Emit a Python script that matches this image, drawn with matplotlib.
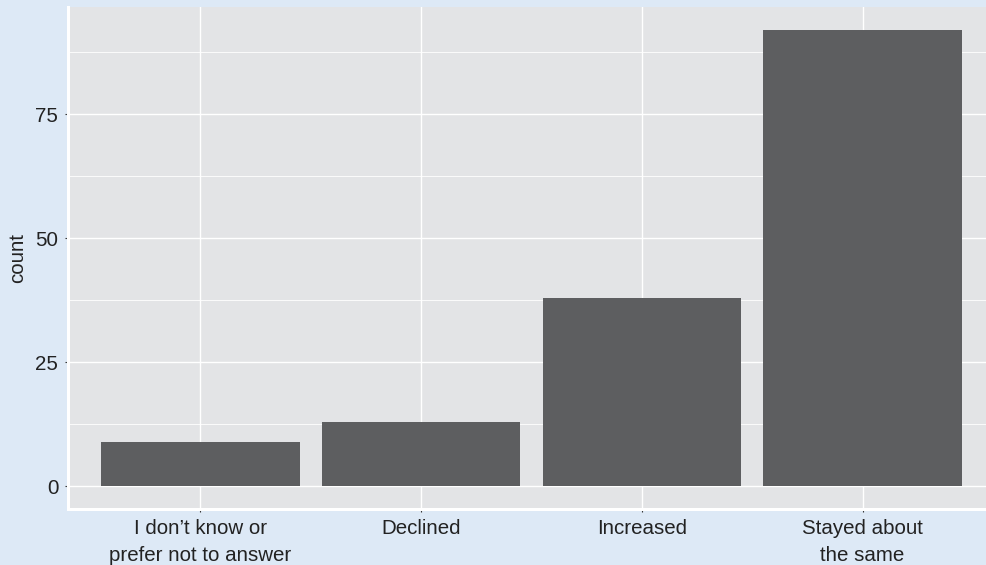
import matplotlib
matplotlib.use("Agg")
import matplotlib.pyplot as plt
import numpy as np

categories = ["I don\u2019t know or\nprefer not to answer", "Declined", "Increased", "Stayed about\nthe same"]
counts = [9, 13, 38, 92]
yticks = [0, 25, 50, 75]
yminor = [12.5, 37.5, 62.5, 87.5]

plt.rcParams['font.family'] = ['Liberation Sans', 'DejaVu Sans']

W, H = 986, 565
fig = plt.figure(figsize=(W / 100, H / 100), dpi=100, facecolor='#dde9f6')
left, right, top, bottom = 68, 995, 7, 509
ax = fig.add_axes([left / W, (H - bottom) / H, (right - left) / W, (bottom - top) / H])
ax.set_facecolor('#e3e4e6')

x = np.arange(1, len(categories) + 1)
ax.bar(x, counts, width=0.9, color='#5d5e60', zorder=3)

ax.set_xlim(0.4, len(categories) + 0.6)
ymax = max(counts)
ax.set_ylim(-0.05 * ymax, ymax * 1.05)

ax.set_xticks(x)
ax.set_xticklabels(categories, fontsize=14.8, color='#222222', linespacing=1.48)
ax.set_yticks(yticks)
ax.set_yticklabels([str(v) for v in yticks], fontsize=14.8, color='#222222')
ax.set_yticks(yminor, minor=True)

ax.grid(which='major', color='white', linewidth=1.0, zorder=0)
ax.grid(which='minor', axis='y', color='white', linewidth=0.6, zorder=0)
ax.set_axisbelow(True)

ax.tick_params(axis='both', which='major', length=2.5, width=0.8, color='#333333')
ax.tick_params(axis='x', which='major', pad=5)
ax.tick_params(axis='y', which='major', pad=4.5)
ax.tick_params(axis='y', which='minor', length=0)

for s in ['top', 'right']:
    ax.spines[s].set_visible(False)
for s in ['left', 'bottom']:
    ax.spines[s].set_color('white')
    ax.spines[s].set_linewidth(2.2)

ax.set_ylabel('count', fontsize=14.8, color='#222222', labelpad=6)

fig.savefig('out.png', dpi=100, facecolor=fig.get_facecolor())
